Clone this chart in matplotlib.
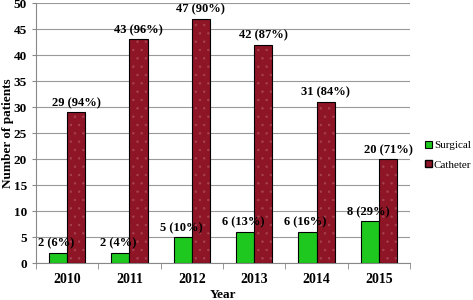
import numpy as np
import matplotlib
matplotlib.use('Agg')
import matplotlib.pyplot as plt

years = ['2010', '2011', '2012', '2013', '2014', '2015']
surgical = [2, 2, 5, 6, 6, 8]
catheter = [29, 43, 47, 42, 31, 20]
surgical_labels = ['2 (6%)', '2 (4%)', '5 (10%)', '6 (13%)', '6 (16%)', '8 (29%)']
catheter_labels = ['29 (94%)', '43 (96%)', '47 (90%)', '42 (87%)', '31 (84%)', '20 (71%)']

GREEN = '#1ec81e'
RED = '#8e1525'

plt.rcParams['font.family'] = ['Liberation Serif', 'DejaVu Serif']
plt.rcParams['hatch.linewidth'] = 0.5

fig = plt.figure(figsize=(4.73, 3.0), dpi=100)
ax = fig.add_axes([0.076, 0.123, 0.791, 0.867])

x = np.arange(len(years))
w = 0.29

ax.bar(x - w / 2, surgical, w, color=GREEN, edgecolor='black', linewidth=0.8,
       label='Surgical', zorder=3)
# dotted fill for catheter bars, then black outline on top
ax.bar(x + w / 2, catheter, w, color=RED, edgecolor='#a84152', hatch='..',
       linewidth=0, zorder=3)
ax.bar(x + w / 2, catheter, w, facecolor='none', edgecolor='black', linewidth=0.8,
       zorder=4)
ax.bar([0], [0], 0, color=RED, edgecolor='black', label='Catheter')

for i in range(len(years)):
    ax.text(x[i] - w / 2 - 0.03, surgical[i] + 0.6, surgical_labels[i], ha='center',
            va='bottom', fontsize=9, fontweight='bold', zorder=5)
    ax.text(x[i] + w / 2, catheter[i] + 0.6, catheter_labels[i], ha='center',
            va='bottom', fontsize=9, fontweight='bold', zorder=5)

ax.set_xlim(-0.5, len(years) - 0.5)
ax.set_ylim(0, 50)
ax.set_yticks(range(0, 51, 5))
ax.set_xticks(x)
ax.set_xticklabels(years, fontsize=10, fontweight='bold')
ax.set_xticks(np.arange(-0.5, len(years), 1), minor=True)
ax.tick_params(axis='x', which='major', length=0, pad=7)
ax.tick_params(axis='x', which='minor', length=4, color='#888888', direction='out')
ax.tick_params(axis='y', length=3, color='#888888', labelsize=9.5)
for lab in ax.get_yticklabels():
    lab.set_fontweight('bold')

ax.grid(axis='y', color='#999999', linewidth=0.8, zorder=0)
for s in ['top', 'right']:
    ax.spines[s].set_visible(False)
ax.spines['left'].set_color('#888888')
ax.spines['bottom'].set_color('#888888')

ax.set_ylabel('Number of patients', fontsize=9.5, fontweight='bold')
ax.set_xlabel('Year', fontsize=9.5, fontweight='bold')
ax.yaxis.set_label_coords(-0.058, 0.5)
ax.xaxis.set_label_coords(0.5, -0.098)

ax.legend(loc='center left', bbox_to_anchor=(1.04, 0.415), frameon=False, fontsize=8,
          handlelength=0.6, handleheight=0.6, handletextpad=0.2, labelspacing=0.9,
          borderpad=0, borderaxespad=0)

fig.savefig('out.png', dpi=100)
